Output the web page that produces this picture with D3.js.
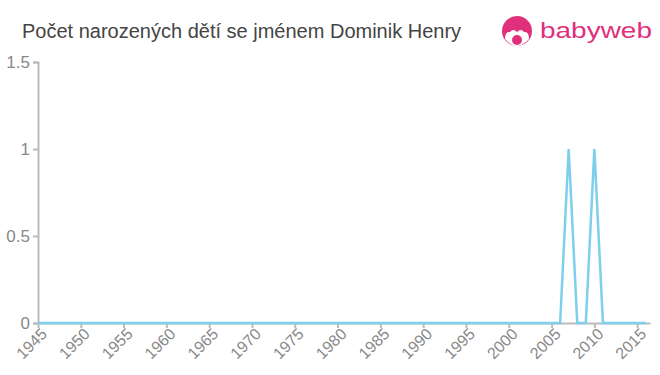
<!DOCTYPE html>
<html>
<head>
<meta charset="utf-8">
<script src="https://cdn.jsdelivr.net/npm/d3@7"></script>
<style>
  body { margin: 0; background: #fff; }
  text { font-family: "Liberation Sans", Arial, sans-serif; }
</style>
</head>
<body>
<div id="chart"></div>
<script>
const chartTitle = 'Počet narozených dětí se jménem Dominik Henry'
const years = d3.range(1945, 2017)
const peakYears = [2007, 2010]
const counts = years.map(y => peakYears.includes(y) ? 1 : 0)
const yTicks = [0, 0.5, 1, 1.5]
const xTicks = d3.range(1945, 2016, 5)

const margin = { top: 62, right: 10, bottom: 52, left: 38 }
const width = 660 - margin.left - margin.right
const height = 375 - margin.top - margin.bottom
const pink = '#e0307c'

const root = d3.select('#chart').append('svg')
    .attr('width', 660)
    .attr('height', 375)

root.append('text')
    .attr('x', 22)
    .attr('y', 38)
    .attr('font-size', 20)
    .attr('fill', '#444')
    .text(chartTitle)

// logo
const logo = root.append('g').attr('transform', 'translate(517, 31)')
logo.append('circle').attr('r', 15).attr('fill', pink)
logo.append('path')
    .attr('d', 'M-12,8 Q-12,0 -7,1 Q-4,-3 0,1 Q4,-3 7,1 Q12,0 12,8 Q6,15 0,15 Q-6,15 -12,8 Z')
    .attr('fill', '#fff')
logo.append('circle').attr('cy', 9).attr('r', 5).attr('fill', pink)
logo.append('text')
    .attr('x', 23)
    .attr('y', 7)
    .attr('font-size', 22)
    .attr('textLength', 112)
    .attr('lengthAdjust', 'spacingAndGlyphs')
    .attr('fill', pink)
    .text('babyweb')

const svg = root.append('g')
    .attr('transform', `translate(${margin.left}, ${margin.top})`)

const x = d3.scaleLinear()
    .domain([1945, 2016.5])
    .range([0, width])

const y = d3.scaleLinear()
    .domain([0, 1.5])
    .range([height, 0])

const xAxis = svg.append('g')
    .attr('transform', `translate(0, ${height})`)
    .call(d3.axisBottom(x).tickValues(xTicks).tickFormat(d3.format('d')).tickSize(5).tickSizeOuter(0))
xAxis.selectAll('text')
    .attr('font-size', 16)
    .attr('fill', '#888')
    .attr('text-anchor', 'end')
    .attr('dx', '-0.1em')
    .attr('dy', '0.45em')
    .attr('transform', 'rotate(-45)')

const yAxis = svg.append('g')
    .call(d3.axisLeft(y).tickValues(yTicks).tickFormat(d => d).tickSize(5).tickSizeOuter(5))
yAxis.selectAll('text')
    .attr('font-size', 17)
    .attr('fill', '#888')

svg.selectAll('.domain, .tick line').attr('stroke', '#bbb').attr('stroke-width', 2)

const line = d3.line()
    .x((d, i) => x(years[i]))
    .y(d => y(d))

svg.append('path')
    .datum(counts)
    .attr('d', line)
    .attr('fill', 'none')
    .attr('stroke', '#7dcfec')
    .attr('stroke-width', 2.5)
</script>
</body>
</html>
